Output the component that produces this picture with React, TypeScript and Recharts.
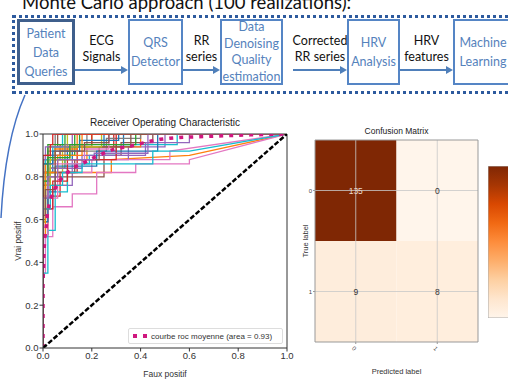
import { Bar, BarChart, ComposedChart, Line, LineChart, ReferenceArea, ReferenceLine, Scatter, XAxis, YAxis } from 'recharts';

// pipeline (top diagram)
const pipelineTitle = 'Monte Carlo approach (100 realizations):';
const stepBoxes = [
  { lines: ['Patient', 'Data', 'Queries'], left: 17, width: 58 },
  { lines: ['QRS', 'Detector'], left: 128, width: 55 },
  { lines: ['Data', 'Denoising', 'Quality', 'estimation'], left: 220, width: 63 },
  { lines: ['HRV', 'Analysis'], left: 347, width: 53 },
  { lines: ['Machine', 'Learning'], left: 453, width: 60 }
];
const arrowLabels = [
  { lines: ['ECG', 'Signals'], x1: 75, x2: 128 },
  { lines: ['RR', 'series'], x1: 183, x2: 220 },
  { lines: ['Corrected', 'RR series'], x1: 293, x2: 347 },
  { lines: ['HRV', 'features'], x1: 400, x2: 453 }
];

// ROC realizations (fpr, tpr)
const rocCurves: number[][][] = [
  [[0, 0], [0, 0.65], [0.01, 0.65], [0.01, 0.82], [0.04, 0.82], [0.04, 0.88], [0.12, 0.88], [0.12, 0.94], [0.25, 0.94], [0.25, 1], [1, 1]],
  [[0, 0], [0, 0.59], [0.02, 0.59], [0.02, 0.76], [0.1, 0.76], [0.1, 0.82], [0.28, 0.82], [0.28, 0.88], [0.6, 0.9], [1, 1]],
  [[0, 0], [0, 0.76], [0.01, 0.76], [0.01, 0.88], [0.05, 0.88], [0.05, 0.94], [0.15, 0.94], [0.15, 1], [1, 1]],
  [[0, 0], [0, 0.53], [0.02, 0.53], [0.02, 0.71], [0.07, 0.71], [0.07, 0.82], [0.14, 0.82], [0.14, 0.94], [0.29, 0.94], [0.29, 1], [1, 1]],
  [[0, 0], [0, 0.47], [0.01, 0.47], [0.01, 0.65], [0.04, 0.65], [0.04, 0.76], [0.12, 0.76], [0.12, 0.88], [0.35, 0.88], [0.35, 0.94], [0.5, 0.94], [0.5, 1], [1, 1]],
  [[0, 0], [0, 0.7], [0.03, 0.7], [0.03, 0.8], [0.25, 0.8], [0.25, 0.9], [0.32, 0.9], [0.32, 0.96], [0.45, 0.96], [0.45, 1], [1, 1]],
  [[0, 0], [0, 0.35], [0.01, 0.35], [0.01, 0.52], [0.04, 0.52], [0.04, 0.66], [0.12, 0.66], [0.12, 0.72], [0.22, 0.72], [0.22, 0.82], [0.38, 0.82], [0.38, 0.86], [0.6, 0.86], [0.6, 0.88], [1, 1]],
  [[0, 0], [0, 0.8], [0.02, 0.8], [0.02, 0.92], [0.05, 0.92], [0.05, 1], [1, 1]],
  [[0, 0], [0, 0.71], [0.01, 0.71], [0.01, 0.82], [0.08, 0.82], [0.08, 0.94], [0.2, 0.94], [0.2, 1], [1, 1]],
  [[0, 0], [0, 0.35], [0.02, 0.35], [0.02, 0.55], [0.05, 0.55], [0.05, 0.73], [0.1, 0.73], [0.1, 0.86], [0.19, 0.86], [0.19, 0.9], [0.3, 0.9], [0.3, 0.95], [0.55, 0.95], [0.55, 1], [1, 1]],
  [[0, 0], [0, 0.82], [0.03, 0.82], [0.03, 0.88], [0.1, 0.88], [0.1, 0.94], [0.33, 0.94], [0.33, 1], [1, 1]],
  [[0, 0], [0, 0.76], [0.02, 0.76], [0.02, 0.88], [0.18, 0.88], [0.18, 0.94], [0.4, 0.94], [0.4, 1], [1, 1]],
  [[0, 0], [0, 0.6], [0.01, 0.6], [0.01, 0.78], [0.03, 0.78], [0.03, 0.84], [0.09, 0.84], [0.09, 0.9], [0.13, 0.9], [0.13, 1], [1, 1]],
  [[0, 0], [0, 0.82], [0.01, 0.82], [0.01, 0.9], [0.07, 0.9], [0.07, 0.95], [0.2, 0.95], [0.2, 1], [1, 1]],
  [[0, 0], [0, 0.71], [0.03, 0.71], [0.03, 0.84], [0.16, 0.84], [0.16, 0.9], [0.42, 0.9], [0.42, 0.96], [0.6, 0.96], [0.6, 1], [1, 1]],
  [[0, 0], [0, 0.88], [0.02, 0.88], [0.02, 0.94], [0.06, 0.94], [0.06, 1], [1, 1]],
  [[0, 0], [0, 0.53], [0.02, 0.53], [0.02, 0.7], [0.06, 0.7], [0.06, 0.82], [0.2, 0.82], [0.2, 0.88], [0.52, 0.88], [0.52, 0.92], [1, 1]],
  [[0, 0], [0, 0.65], [0.02, 0.65], [0.02, 0.88], [0.07, 0.88], [0.07, 0.92], [0.26, 0.92], [0.26, 0.98], [0.4, 0.98], [0.4, 1], [1, 1]],
  [[0, 0], [0, 0.82], [0.03, 0.82], [0.03, 0.94], [0.1, 0.94], [0.1, 1], [1, 1]],
  [[0, 0], [0, 0.76], [0.01, 0.76], [0.01, 0.88], [0.04, 0.88], [0.04, 0.94], [0.08, 0.94], [0.08, 1], [1, 1]],
  [[0, 0], [0, 0.59], [0.02, 0.59], [0.02, 0.73], [0.05, 0.73], [0.05, 0.85], [0.22, 0.85], [0.22, 0.92], [0.47, 0.92], [0.47, 1], [1, 1]],
  [[0, 0], [0, 0.7], [0.01, 0.7], [0.01, 0.86], [0.05, 0.86], [0.05, 0.93], [0.14, 0.93], [0.14, 1], [1, 1]],
  [[0, 0], [0, 0.86], [0.02, 0.86], [0.02, 0.95], [0.09, 0.95], [0.09, 1], [1, 1]],
  [[0, 0], [0, 0.65], [0.04, 0.65], [0.04, 0.78], [0.1, 0.78], [0.1, 0.88], [0.3, 0.88], [0.3, 1], [1, 1]],
  [[0, 0], [0, 0.88], [0.01, 0.88], [0.01, 0.94], [0.12, 0.94], [0.12, 1], [1, 1]],
  [[0, 0], [0, 0.76], [0.03, 0.76], [0.03, 0.82], [0.13, 0.82], [0.13, 0.88], [0.23, 0.88], [0.23, 0.94], [0.36, 0.94], [0.36, 1], [1, 1]],
  [[0, 0], [0, 0.71], [0.02, 0.71], [0.02, 0.86], [0.17, 0.86], [0.17, 0.93], [0.27, 0.93], [0.27, 1], [1, 1]],
  [[0, 0], [0, 0.82], [0.02, 0.82], [0.02, 0.9], [0.09, 0.9], [0.09, 0.95], [0.18, 0.95], [0.18, 1], [1, 1]],
  [[0, 0], [0, 0.59], [0.01, 0.59], [0.01, 0.76], [0.03, 0.76], [0.03, 0.88], [0.11, 0.88], [0.11, 0.94], [0.24, 0.94], [0.24, 1], [1, 1]],
  [[0, 0], [0, 0.65], [0.03, 0.65], [0.03, 0.76], [0.08, 0.76], [0.08, 0.82], [0.16, 0.82], [0.16, 0.86], [0.45, 0.86], [0.45, 0.92], [0.6, 0.92], [1, 1]],
  [[0, 0], [0, 0.86], [0.04, 0.86], [0.04, 0.92], [0.15, 0.92], [0.15, 0.97], [0.31, 0.97], [0.31, 1], [1, 1]],
  [[0, 0], [0, 0.53], [0.01, 0.53], [0.01, 0.82], [0.06, 0.82], [0.06, 0.9], [0.16, 0.9], [0.16, 1], [1, 1]],
  [[0, 0], [0, 0.78], [0.02, 0.78], [0.02, 0.89], [0.11, 0.89], [0.11, 0.95], [0.38, 0.95], [0.38, 1], [1, 1]],
  [[0, 0], [0, 0.9], [0.03, 0.9], [0.03, 0.95], [0.04, 0.95], [0.04, 1], [1, 1]],
  [[0, 0], [0, 0.7], [0.02, 0.7], [0.02, 0.8], [0.06, 0.8], [0.06, 0.88], [0.21, 0.88], [0.21, 0.91], [0.43, 0.91], [0.43, 1], [1, 1]],
  [[0, 0], [0, 0.62], [0.01, 0.62], [0.01, 0.74], [0.05, 0.74], [0.05, 0.92], [0.17, 0.92], [0.17, 0.96], [0.27, 0.96], [0.27, 1], [1, 1]]
];
const meanRoc = [[0, 0], [0, 0.3], [0.004, 0.45], [0.007, 0.51], [0.014, 0.575], [0.018, 0.627], [0.027, 0.684], [0.045, 0.736], [0.068, 0.782], [0.1, 0.82], [0.134, 0.848], [0.175, 0.87], [0.209, 0.89], [0.243, 0.907], [0.28, 0.925], [0.32, 0.936], [0.362, 0.944], [0.403, 0.956], [0.444, 0.967], [0.481, 0.975], [0.519, 0.98], [0.56, 0.984], [0.7, 0.99], [0.85, 0.996], [1, 1]];
const chanceLine = [[0, 0], [1, 1]];
const rocTicks = [0, 0.2, 0.4, 0.6, 0.8, 1];
const meanLabel = 'courbe roc moyenne (area = 0.93)';

// confusion matrix
const cmClasses = ['0', '1'];
const cmValues = [[135, 0], [9, 8]];

const tab10 = ['#1f77b4', '#ff7f0e', '#2ca02c', '#d62728', '#9467bd', '#8c564b', '#e377c2', '#7f7f7f', '#bcbd22', '#17becf'];
const oranges = ['#fff5eb', '#fee6ce', '#fdd0a2', '#fdae6b', '#fd8d3c', '#f16913', '#d94801', '#a63603', '#7f2704'];

const toPts = (c: number[][]) => c.map(([x, y]) => ({ x, y }));

function orangeAt(t: number) {
  const p = Math.max(0, Math.min(1, t)) * (oranges.length - 1);
  const i = Math.min(Math.floor(p), oranges.length - 2);
  const f = p - i;
  const a = oranges[i], b = oranges[i + 1];
  const ch = (s: string, k: number) => parseInt(s.slice(1 + k * 2, 3 + k * 2), 16);
  const mix = [0, 1, 2].map((k) => Math.round(ch(a, k) + (ch(b, k) - ch(a, k)) * f).toString(16).padStart(2, '0'));
  return '#' + mix.join('');
}

const cmMax = Math.max(...cmValues.flat());
const cmCells = cmValues.flatMap((row, r) => row.map((v, c) => ({ row: r, col: c, v })));

const chartFont = "'Liberation Sans', Arial, sans-serif";
const diagFont = "Lato, 'Open Sans', sans-serif";

function CellText(props: any) {
  const { cx, cy, payload } = props;
  const dark = payload.v / cmMax > 0.5;
  return (
    <text x={cx} y={cy} textAnchor="middle" dominantBaseline="central" fontSize={8.5} fontFamily={chartFont} fill={dark ? '#eadcd0' : '#333'}>
      {payload.v}
    </text>
  );
}

function RocLegend() {
  return (
    <div style={{ position: 'absolute', left: 128, top: 216, width: 153, height: 14, border: '1px solid #ddd', borderRadius: 2, background: 'rgba(255,255,255,0.9)', display: 'flex', alignItems: 'center', fontFamily: chartFont, fontSize: 8, color: '#333' }}>
      <svg width={22} height={12}>
        <line x1={4} x2={18} y1={6} y2={6} stroke="#d0177f" strokeWidth={4} strokeDasharray="4 6" />
      </svg>
      <span style={{ whiteSpace: 'nowrap' }}>{meanLabel}</span>
    </div>
  );
}

function Pipeline() {
  return (
    <div style={{ position: 'absolute', left: 0, top: 0, width: 508, height: 110, fontFamily: diagFont }}>
      <div style={{ position: 'absolute', left: 22, top: -9, fontSize: 18.5, color: '#111', whiteSpace: 'nowrap' }}>{pipelineTitle}</div>
      <div style={{ position: 'absolute', left: 12, top: 15, width: 510, height: 79, border: '3px dotted #2d5a9e', boxSizing: 'border-box' }} />
      {stepBoxes.map((b, i) => (
        <div key={i} style={{ position: 'absolute', left: b.left, top: 19, width: b.width, height: 66, boxSizing: 'border-box', border: i === 0 ? '3px solid #3f5f8c' : '2.5px solid #5585c5', background: '#fff', display: 'flex', flexDirection: 'column', justifyContent: 'center', alignItems: 'center', color: '#5582bc', fontSize: 12.5, lineHeight: b.lines.length > 3 ? '16.5px' : '19px' }}>
          {b.lines.map((l) => <div key={l} style={{ whiteSpace: 'nowrap' }}>{l}</div>)}
        </div>
      ))}
      {arrowLabels.map((a, i) => (
        <div key={i} style={{ position: 'absolute', left: a.x1 - 10, width: a.x2 - a.x1 + 20, top: 33, textAlign: 'center', fontSize: 12.5, lineHeight: '16px', color: '#111' }}>
          {a.lines.map((l) => <div key={l} style={{ whiteSpace: 'nowrap' }}>{l}</div>)}
        </div>
      ))}
      <svg width={508} height={230} style={{ position: 'absolute', left: 0, top: 0, overflow: 'visible' }}>
        {arrowLabels.map((a, i) => (
          <g key={i}>
            <line x1={a.x1} x2={a.x2 - 6} y1={70} y2={70} stroke="#4f7fba" strokeWidth={2} />
            <polygon points={`${a.x2 - 7},66 ${a.x2},70 ${a.x2 - 7},74`} fill="#4f7fba" />
          </g>
        ))}
        <path d="M 1 218 Q 5 140 25 95" fill="none" stroke="#4472c4" strokeWidth={1.5} />
      </svg>
    </div>
  );
}

function RocChart() {
  return (
    <div style={{ position: 'absolute', left: 0, top: 112, width: 300, height: 267 }}>
      <div style={{ position: 'absolute', left: 43, width: 244, top: 5, textAlign: 'center', fontFamily: chartFont, fontSize: 10, color: '#222' }}>Receiver Operating Characteristic</div>
      <LineChart width={300} height={267} margin={{ top: 22, right: 13, bottom: 0, left: 13 }} style={{ fontFamily: chartFont }}>
        <XAxis type="number" dataKey="x" domain={[0, 1]} ticks={rocTicks} allowDataOverflow tickFormatter={(v: number) => v.toFixed(1)} tick={{ fontSize: 9.5, fill: '#333' }} tickSize={3.5} tickMargin={1} stroke="#333" height={31} label={{ value: 'Faux positif', position: 'insideBottom', offset: 2, fontSize: 8.5, fill: '#333' }} />
        <YAxis type="number" dataKey="y" domain={[0, 1]} ticks={rocTicks} allowDataOverflow tickFormatter={(v: number) => v.toFixed(1)} tick={{ fontSize: 9.5, fill: '#333' }} tickSize={3.5} tickMargin={1} stroke="#333" width={30} label={{ value: 'Vrai positif', angle: -90, position: 'insideLeft', offset: 5, fontSize: 8.5, fill: '#333', style: { textAnchor: 'middle' } }} />
        <ReferenceLine y={1} stroke="#333" />
        <ReferenceLine x={1} stroke="#333" />
        {rocCurves.map((c, i) => (
          <Line key={i} data={toPts(c)} dataKey="y" type="linear" stroke={tab10[i % 10]} strokeWidth={1.3} dot={false} isAnimationActive={false} />
        ))}
        <Line data={toPts(meanRoc)} dataKey="y" type="linear" stroke="#d0177f" strokeWidth={3.5} strokeDasharray="4 6" dot={false} isAnimationActive={false} name={meanLabel} />
        <Line data={toPts(chanceLine)} dataKey="y" type="linear" stroke="#000" strokeWidth={2.5} strokeDasharray="5 2" dot={false} isAnimationActive={false} />
      </LineChart>
      <RocLegend />
    </div>
  );
}

function ConfusionChart() {
  return (
    <div style={{ position: 'absolute', left: 296, top: 120, width: 190, height: 259 }}>
      <div style={{ position: 'absolute', left: 19, width: 163, top: 6, textAlign: 'center', fontFamily: chartFont, fontSize: 8.5, color: '#222' }}>Confusion Matrix</div>
      <ComposedChart width={190} height={259} margin={{ top: 20, right: 8, bottom: 0, left: 0 }} style={{ fontFamily: chartFont }}>
        <XAxis type="number" dataKey="col" domain={[-0.5, 1.5]} ticks={[0, 1]} tickFormatter={(v: number) => cmClasses[v]} angle={45} tick={{ fontSize: 6, fill: '#444' }} tickSize={2} tickMargin={3} stroke="#999" height={37} label={{ value: 'Predicted label', position: 'insideBottom', offset: 5, fontSize: 7.5, fill: '#333' }} />
        <YAxis type="number" dataKey="row" domain={[-0.5, 1.5]} ticks={[0, 1]} reversed tickFormatter={(v: number) => cmClasses[v]} tick={{ fontSize: 6, fill: '#444' }} tickSize={2} tickMargin={1} stroke="#999" width={19} label={{ value: 'True label', angle: -90, position: 'insideLeft', offset: 9, fontSize: 7.5, fill: '#333', style: { textAnchor: 'middle' } }} />
        {cmCells.map((c) => (
          <ReferenceArea key={`${c.row}-${c.col}`} x1={c.col - 0.5} x2={c.col + 0.5} y1={c.row - 0.5} y2={c.row + 0.5} fill={orangeAt(c.v / cmMax)} fillOpacity={1} stroke="none" />
        ))}
        {[0, 1].map((t) => <ReferenceLine key={`x${t}`} x={t} stroke="#c8c8c8" strokeOpacity={0.8} />)}
        {[0, 1].map((t) => <ReferenceLine key={`y${t}`} y={t} stroke="#c8c8c8" strokeOpacity={0.8} />)}
        <ReferenceLine y={-0.5} stroke="#999" />
        <ReferenceLine x={1.5} stroke="#999" />
        <Scatter data={cmCells} dataKey="row" shape={CellText} isAnimationActive={false} />
      </ComposedChart>
    </div>
  );
}

function ColorBar() {
  return (
    <div style={{ position: 'absolute', left: 488, top: 166, width: 26, height: 152 }}>
      <BarChart width={26} height={152} data={[{ v: cmMax }]} margin={{ top: 0, right: 0, bottom: 0, left: 0 }} barCategoryGap={0}>
        <defs>
          <linearGradient id="orGrad" x1="0" y1="1" x2="0" y2="0">
            {oranges.map((c, i) => <stop key={c} offset={i / (oranges.length - 1)} stopColor={c} />)}
          </linearGradient>
        </defs>
        <XAxis hide />
        <YAxis hide domain={[0, cmMax]} />
        <Bar dataKey="v" fill="url(#orGrad)" stroke="#aaa" strokeWidth={1} isAnimationActive={false} />
      </BarChart>
    </div>
  );
}

export default function App() {
  return (
    <div style={{ position: 'fixed', left: 0, top: 0, width: 508, height: 379, overflow: 'hidden', background: '#fff' }}>
      <Pipeline />
      <RocChart />
      <ConfusionChart />
      <ColorBar />
    </div>
  );
}
